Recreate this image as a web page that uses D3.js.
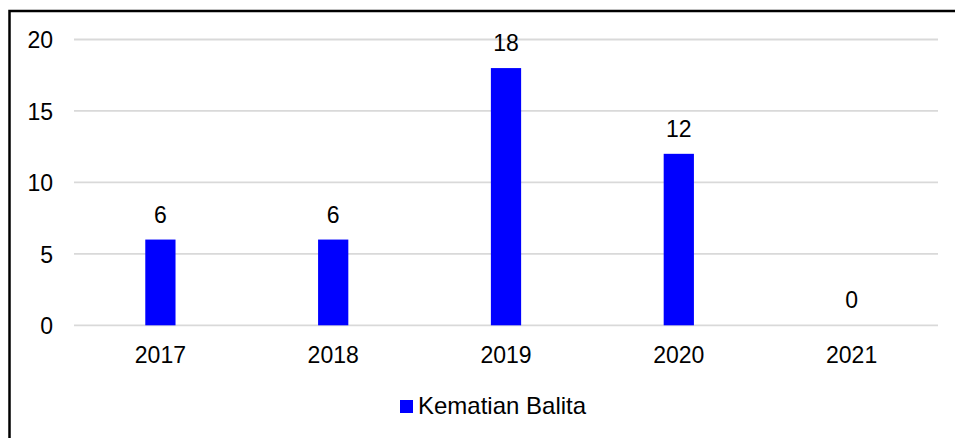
<!DOCTYPE html>
<html>
<head>
<meta charset="utf-8">
<script src="https://cdn.jsdelivr.net/npm/d3@7"></script>
<style>
  body { margin: 0; background: #fff; }
  text { font-family: "Liberation Sans", Arial, sans-serif; fill: #000; }
</style>
</head>
<body>
<script>
// data
const years = ["2017", "2018", "2019", "2020", "2021"];
const deaths = [6, 6, 18, 12, 0];
const yTicks = [0, 5, 10, 15, 20];
const seriesName = "Kematian Balita";

const width = 955, height = 438;
const plot = { left: 74, right: 938, top: 39.5, bottom: 325.3 };

const svg = d3.select("body").append("svg")
    .attr("width", width)
    .attr("height", height);

// outer frame (only top/left edges are in view)
svg.append("rect")
    .attr("x", 9.5).attr("y", 11)
    .attr("width", 1000).attr("height", 600)
    .attr("fill", "none")
    .attr("stroke", "#000")
    .attr("stroke-width", 2.5);

let x = d3.scaleBand()
    .domain(years)
    .range([plot.left, plot.right])
    .paddingInner(0.825)
    .paddingOuter(0.4125);

let y = d3.scaleLinear()
    .domain([0, 20])
    .range([plot.bottom, plot.top]);

//gridlines
svg.append("g")
    .selectAll("line")
    .data(yTicks)
    .enter()
    .append("line")
    .attr("x1", plot.left)
    .attr("x2", plot.right)
    .attr("y1", d => y(d))
    .attr("y2", d => y(d))
    .attr("stroke", "#d9d9d9")
    .attr("stroke-width", 1.8);

// y axis labels
let yAxis = svg.append("g")
    .attr("transform", "translate(" + 53 + ",0)")
    .call(d3.axisLeft(y).tickValues(yTicks).tickSize(0).tickPadding(0));
yAxis.select(".domain").remove();
yAxis.selectAll("text")
    .style("font-size", "23px")
    .attr("dy", "0.36em");

// x axis labels
let xAxis = svg.append("g")
    .attr("transform", "translate(0," + plot.bottom + ")")
    .call(d3.axisBottom(x).tickSize(0).tickPadding(0));
xAxis.select(".domain").remove();
xAxis.selectAll("text")
    .style("font-size", "23px")
    .attr("y", 38)
    .attr("dy", 0);

// bars
svg.append("g")
    .selectAll("rect")
    .data(years)
    .enter()
    .append("rect")
    .attr("x", d => x(d))
    .attr("width", x.bandwidth())
    .attr("y", (d, i) => y(deaths[i]))
    .attr("height", (d, i) => y(0) - y(deaths[i]))
    .attr("fill", "#0000ff");

// value labels
svg.append("g")
    .selectAll("text")
    .data(years)
    .enter()
    .append("text")
    .attr("x", d => x(d) + x.bandwidth() / 2)
    .attr("y", (d, i) => y(deaths[i]) - 17)
    .attr("text-anchor", "middle")
    .style("font-size", "23px")
    .text((d, i) => deaths[i]);

// legend
let legend = svg.append("g").attr("transform", "translate(400,400)");
legend.append("rect")
    .attr("width", 13).attr("height", 13)
    .attr("fill", "#0000ff");
legend.append("text")
    .attr("x", 18).attr("y", 14)
    .style("font-size", "24px")
    .text(seriesName);
</script>
</body>
</html>
